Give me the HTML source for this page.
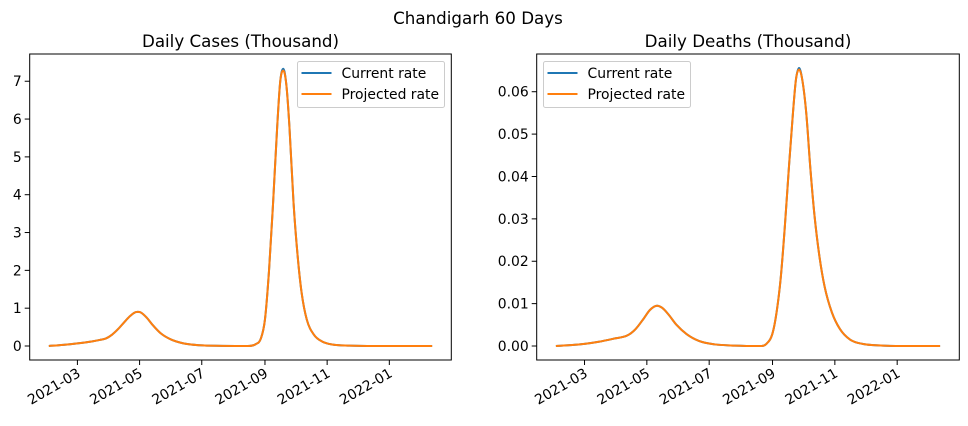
<!DOCTYPE html>
<html><head><meta charset="utf-8"><style>
body{margin:0;background:#fff;}
svg text{font-family:"DejaVu Sans","Liberation Sans",sans-serif;fill:#000;}
</style></head><body>
<svg id="chart" width="968" height="421" xmlns="http://www.w3.org/2000/svg">
<text x="478" y="24" font-size="16.7" text-anchor="middle">Chandigarh 60 Days</text>
</svg>
<script>
// days since 2021-02-01
const caseDays=[0,14,28,42,50,56,62,68,74,80,86,90,96,102,110,120,132,148,170,195,203,208,212,216,220,224,227,230,233,236,240,244,248,253,260,268,278,295,320,376];
const caseCurrent=[0,0.03,0.07,0.12,0.16,0.2,0.3,0.45,0.63,0.8,0.9,0.89,0.75,0.55,0.33,0.17,0.07,0.02,0.005,0,0.05,0.2,0.7,2.0,3.8,5.8,7.0,7.33,6.9,5.8,3.8,2.4,1.4,0.7,0.3,0.12,0.04,0.01,0,0];
const caseProjected=[0,0.03,0.07,0.12,0.16,0.2,0.3,0.45,0.63,0.8,0.9,0.89,0.75,0.55,0.33,0.17,0.07,0.02,0.005,0,0.05,0.2,0.7,2.0,3.8,5.8,7.0,7.28,6.9,5.8,3.8,2.4,1.4,0.7,0.3,0.12,0.04,0.01,0,0];
const deathDays=[0,14,28,42,56,70,78,86,92,99,104,110,118,128,140,155,175,200,206,212,216,220,224,228,232,235,238,241,245,249,253,258,263,270,278,288,300,320,340,376];
const deathCurrent=[0,0.0002,0.0005,0.001,0.0017,0.0025,0.004,0.0065,0.0085,0.0095,0.009,0.0075,0.005,0.0028,0.0012,0.0004,0.0001,0,0.0005,0.003,0.008,0.016,0.028,0.042,0.055,0.063,0.0656,0.063,0.055,0.042,0.031,0.021,0.014,0.008,0.004,0.0015,0.0005,0.0001,0,0];
const deathProjected=[0,0.0002,0.0005,0.001,0.0017,0.0025,0.004,0.0065,0.0085,0.0095,0.009,0.0075,0.005,0.0028,0.0012,0.0004,0.0001,0,0.0005,0.003,0.008,0.016,0.028,0.042,0.055,0.063,0.0652,0.063,0.055,0.042,0.031,0.021,0.014,0.008,0.004,0.0015,0.0005,0.0001,0,0];
const monthTickDays=[28,89,150,212,273,334];
const monthTickLabels=["2021-03","2021-05","2021-07","2021-09","2021-11","2022-01"];
const caseTicks=[0,1,2,3,4,5,6,7];
const caseTickLabels=["0","1","2","3","4","5","6","7"];
const deathTicks=[0,0.01,0.02,0.03,0.04,0.05,0.06];
const deathTickLabels=["0.00","0.01","0.02","0.03","0.04","0.05","0.06"];
const seriesNames=["Current rate","Projected rate"];

const NS="http://www.w3.org/2000/svg";
const svg=document.getElementById('chart');
function mk(tag,attrs,parent){const e=document.createElementNS(NS,tag);for(const k in attrs)e.setAttribute(k,attrs[k]);(parent||svg).appendChild(e);return e;}

function smoothPath(xs,ys){
  const n=xs.length,d=[],m=[];
  for(let i=0;i<n-1;i++)d.push((ys[i+1]-ys[i])/(xs[i+1]-xs[i]));
  m[0]=d[0];m[n-1]=d[n-2];
  for(let i=1;i<n-1;i++){m[i]=(d[i-1]*d[i]<=0)?0:(d[i-1]+d[i])/2;}
  for(let i=0;i<n-1;i++){if(d[i]===0){m[i]=0;m[i+1]=0;}}
  let p="M"+xs[0].toFixed(2)+","+ys[0].toFixed(2);
  for(let i=0;i<n-1;i++){const h=(xs[i+1]-xs[i])/3;
    p+=" C"+(xs[i]+h).toFixed(2)+","+(ys[i]+m[i]*h).toFixed(2)+" "+(xs[i+1]-h).toFixed(2)+","+(ys[i+1]-m[i+1]*h).toFixed(2)+" "+xs[i+1].toFixed(2)+","+ys[i+1].toFixed(2);}
  return p;
}

function panel(o){
  const g=mk('g',{});
  
  
  const dmin=-0.05*376,dmax=1.05*376;
  const xs=d=>o.x0+(d-dmin)/(dmax-dmin)*(o.x1-o.x0);
  const ys=v=>o.y1-(v-o.ymin)/(o.ymax-o.ymin)*(o.y1-o.y0);
  const t=mk('text',{x:(o.x0+o.x1)/2,y:o.y0-7,'font-size':16.7,'text-anchor':'middle'},g);t.textContent=o.title;
  
  
  const colors=['#1f77b4','#ff7f0e'];
  [o.cur,o.proj].forEach((vals,si)=>{
    const px=o.days.map(xs),py=vals.map(ys);
    const p=mk('path',{d:smoothPath(px,py),fill:'none',stroke:colors[si],'stroke-width':2,'stroke-linejoin':'round'},g);
    
    
  });
  const fr=mk('rect',{x:o.x0,y:o.y0,width:o.x1-o.x0,height:o.y1-o.y0,fill:'none',stroke:'#000','stroke-width':1},g);
  
  
  monthTickDays.forEach((d,i)=>{
    const x=xs(d);
    mk('line',{x1:x,x2:x,y1:o.y1,y2:o.y1+5,stroke:'#000','stroke-width':1},g);
    const ax=x+4,ay=o.y1+16;
    const tx=mk('text',{x:ax,y:ay,'font-size':13.9,'text-anchor':'end',transform:`rotate(-30 ${ax} ${ay})`},g);
    tx.textContent=monthTickLabels[i];
    
    
  });
  o.ticks.forEach((v,i)=>{
    const y=ys(v);
    mk('line',{x1:o.x0-5,x2:o.x0,y1:y,y2:y,stroke:'#000','stroke-width':1},g);
    const ty=mk('text',{x:o.x0-8,y:y+5,'font-size':13.9,'text-anchor':'end'},g);
    ty.textContent=o.tickLabels[i];
    
    
  });
  const lg=mk('g',{},g);
  
  
  mk('rect',{x:o.lx,y:61.5,width:147,height:46,rx:2,fill:'#fff','fill-opacity':0.8,stroke:'#ccc','stroke-width':1},lg);
  seriesNames.forEach((n,i)=>{
    const y=73+i*21;
    mk('line',{x1:o.lx+4,x2:o.lx+34,y1:y,y2:y,stroke:colors[i],'stroke-width':2},lg);
    const lt=mk('text',{x:o.lx+44,y:y+5,'font-size':13.9},lg);lt.textContent=n;
    
    
  });
}
panel({name:'cases-panel',title:'Daily Cases (Thousand)',x0:29.7,x1:451.3,y0:54,y1:360,ymin:-0.37,ymax:7.72,days:caseDays,cur:caseCurrent,proj:caseProjected,ticks:caseTicks,tickLabels:caseTickLabels,lx:297.5});
panel({name:'deaths-panel',title:'Daily Deaths (Thousand)',x0:536.7,x1:959.3,y0:54,y1:360,ymin:-0.0033,ymax:0.0689,days:deathDays,cur:deathCurrent,proj:deathProjected,ticks:deathTicks,tickLabels:deathTickLabels,lx:543.5});
</script>
</body></html>
